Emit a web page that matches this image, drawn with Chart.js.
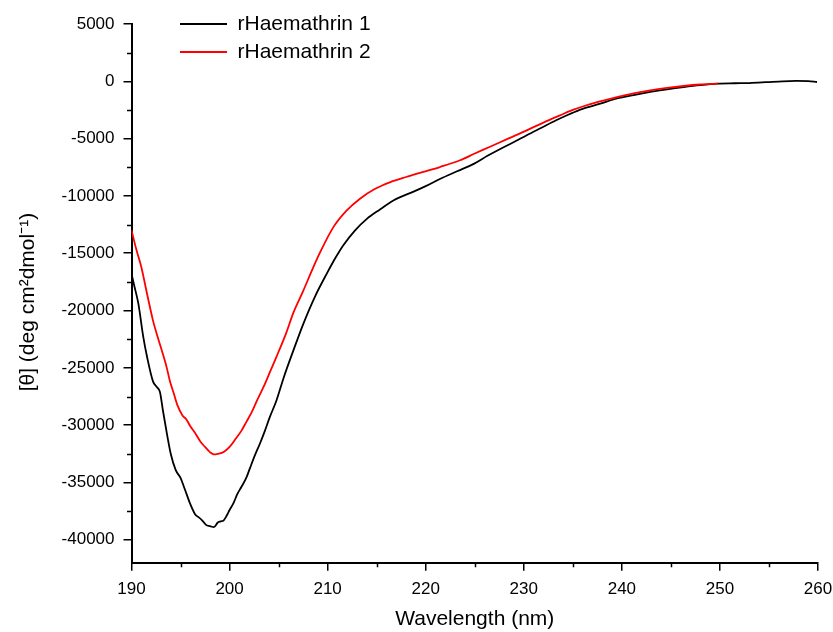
<!DOCTYPE html>
<html>
<head>
<meta charset="utf-8">
<script src="https://cdn.jsdelivr.net/npm/chart.js@4.4.1/dist/chart.umd.min.js"></script>
<style>
  html, body { margin: 0; padding: 0; background: #fff; }
  #wrap { width: 833px; height: 632px; position: relative; }
</style>
</head>
<body>
<div id="wrap"><canvas id="c" width="833" height="632"></canvas></div>
<script>
// ---- data ----
const seriesNames = ["rHaemathrin 1", "rHaemathrin 2"];

const wavelength1 = [190.0,190.3,190.7,191.2,191.6,192.2,192.6,192.9,193.2,193.6,194.0,194.5,195.0,195.4,196.0,196.5,196.8,197.2,197.6,198.0,198.4,198.8,199.1,199.4,199.7,200.0,200.4,200.8,201.2,201.7,202.1,202.6,203.1,203.6,204.1,204.8,205.5,206.5,207.5,208.7,209.9,210.8,211.6,212.8,214.0,215.3,216.7,217.4,218.7,220.0,221.5,223.2,224.9,226.3,227.6,229.0,230.3,231.8,233.3,234.7,236.0,237.8,239.5,241.2,242.9,244.6,246.3,248.0,249.8,251.5,253.0,254.7,256.4,257.8,259.0,259.9];
const theta1 = [-16800,-17900,-19400,-22300,-24100,-26200,-26700,-27100,-28700,-30700,-32500,-33900,-34600,-35500,-36900,-37800,-38000,-38300,-38700,-38800,-38900,-38500,-38400,-38300,-37900,-37400,-36800,-36000,-35400,-34600,-33700,-32600,-31600,-30500,-29300,-27800,-25900,-23500,-21200,-18800,-16800,-15400,-14300,-13000,-12000,-11200,-10400,-10100,-9650,-9150,-8500,-7850,-7200,-6500,-5900,-5300,-4700,-4050,-3400,-2850,-2400,-1950,-1500,-1200,-930,-700,-500,-330,-200,-170,-150,-80,0,30,10,-60];

const wavelength2 = [190.0,190.5,191.0,191.6,192.2,192.7,193.2,193.6,193.9,194.3,194.7,195.2,195.6,196.0,196.5,197.0,197.5,198.0,198.4,198.8,199.4,200.0,200.7,201.2,201.7,202.3,202.8,203.5,204.1,204.8,205.8,206.5,207.5,208.5,209.3,210.6,211.9,213.3,214.8,216.4,218.0,219.75,221.45,223.5,225.0,226.5,228.4,230.3,232.0,233.7,235.0,236.4,238.0,239.5,241.2,242.9,244.6,246.3,248.0,249.8];
const theta2 = [-13000,-14700,-16200,-18600,-20900,-22400,-23800,-25000,-26100,-27200,-28300,-29150,-29500,-30100,-30700,-31400,-31900,-32350,-32550,-32500,-32340,-31900,-31100,-30500,-29730,-28800,-27840,-26600,-25400,-24000,-21900,-20200,-18300,-16300,-14800,-12700,-11300,-10240,-9400,-8790,-8350,-7910,-7480,-6890,-6300,-5730,-5000,-4280,-3600,-2970,-2500,-2090,-1700,-1370,-1050,-790,-580,-410,-280,-200];

const xTickValues = [190, 200, 210, 220, 230, 240, 250, 260];
const yTickValues = [-40000, -35000, -30000, -25000, -20000, -15000, -10000, -5000, 0, 5000];
const xMinorValues = [195, 205, 215, 225, 235, 245, 255];
const yMinorValues = [-42500, -37500, -32500, -27500, -22500, -17500, -12500, -7500, -2500, 2500];

const xMin = 190, xMax = 260;
const yMin = -42000, yMax = 5000;
const xTitle = "Wavelength (nm)";
const yTitle = "[\u03B8] (deg cm\u00B2dmol\u207B\u00B9)\u00A0\u00A0\u00A0";

// ---- chart ----
Chart.defaults.font.family = "'Liberation Sans', Arial, sans-serif";
Chart.defaults.color = "#000";

const toPoints = (xs, ys) => xs.map((x, i) => ({ x: x, y: ys[i] }));

const minorTicks = {
  id: 'minorTicks',
  afterDraw(chart) {
    const ctx = chart.ctx;
    const xs = chart.scales.x, ys = chart.scales.y;
    ctx.save();
    ctx.strokeStyle = '#000';
    ctx.lineWidth = 1.5;
    ctx.beginPath();
    xMinorValues.forEach(v => {
      if (v < xMin || v > xMax) return;
      const px = Math.round(xs.getPixelForValue(v)) + 0.5;
      ctx.moveTo(px, xs.top);
      ctx.lineTo(px, xs.top + 4.5);
    });
    yMinorValues.forEach(v => {
      if (v < yMin || v > yMax) return;
      const py = Math.round(ys.getPixelForValue(v)) + 0.5;
      ctx.moveTo(ys.right, py);
      ctx.lineTo(ys.right - 4.5, py);
    });
    ctx.stroke();
    ctx.restore();
  }
};

const legendPlacer = {
  id: 'legendPlacer',
  afterLayout(chart) {
    const lg = chart.legend;
    if (!lg) return;
    const w = lg.width, h = lg.height;
    lg.left = 173; lg.top = 6.5;
    lg.right = lg.left + w; lg.bottom = lg.top + h;
  }
};

new Chart(document.getElementById('c'), {
  type: 'line',
  data: {
    datasets: [
      {
        label: seriesNames[0],
        data: toPoints(wavelength1, theta1),
        borderColor: '#000000',
        backgroundColor: '#000000',
        borderWidth: 1.8,
        pointRadius: 0,
        cubicInterpolationMode: 'monotone',
        order: 1
      },
      {
        label: seriesNames[1],
        data: toPoints(wavelength2, theta2),
        borderColor: '#ff0000',
        backgroundColor: '#ff0000',
        borderWidth: 1.8,
        pointRadius: 0,
        cubicInterpolationMode: 'monotone',
        order: 0
      }
    ]
  },
  options: {
    responsive: false,
    animation: false,
    devicePixelRatio: 1,
    layout: { padding: { left: 16, right: 15, top: 24, bottom: 0 } },
    plugins: {
      tooltip: { enabled: false },
      legend: {
        position: 'chartArea',
        align: 'start',
        labels: {
          usePointStyle: true,
          pointStyle: 'line',
          pointStyleWidth: 47,
          padding: 7,
          font: { size: 21 },
          color: '#000',
          sort: (a, b) => a.datasetIndex - b.datasetIndex
        }
      }
    },
    scales: {
      x: {
        type: 'linear',
        min: xMin, max: xMax,
        border: { display: true, color: '#000', width: 2 },
        grid: { display: true, drawOnChartArea: false, drawTicks: true, tickLength: 8, color: '#000', lineWidth: 1.5 },
        ticks: { padding: 8, font: { size: 17 }, color: '#000', maxRotation: 0, callback: v => String(v) },
        afterBuildTicks(scale) { scale.ticks = xTickValues.map(v => ({ value: v })); },
        title: { display: true, text: xTitle, font: { size: 21 }, color: '#000', padding: { top: 0, bottom: 0 } },
        afterFit(scale) { scale.height = 69.3; scale.paddingLeft = 0; scale.paddingRight = 0; }
      },
      y: {
        type: 'linear',
        min: yMin, max: yMax,
        border: { display: true, color: '#000', width: 2 },
        grid: { display: true, drawOnChartArea: false, drawTicks: true, tickLength: 8, color: '#000', lineWidth: 1.5 },
        ticks: { padding: 9, font: { size: 17 }, color: '#000', callback: v => String(v) },
        afterBuildTicks(scale) { scale.ticks = yTickValues.map(v => ({ value: v })); },
        title: { display: true, text: yTitle, font: { size: 21 }, color: '#000', padding: { top: 0, bottom: 0 } },
        afterFit(scale) { scale.width = 115.5; scale.paddingTop = 0; scale.paddingBottom = 0; }
      }
    }
  },
  plugins: [minorTicks, legendPlacer]
});
</script>
</body>
</html>
